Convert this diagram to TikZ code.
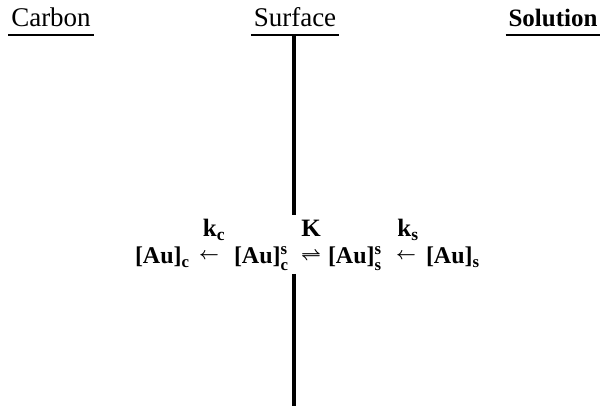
\documentclass[tikz,border=0pt]{standalone}
\usepackage{amsmath}
\usepackage{fontspec}
\setmainfont{Liberation Serif}
\usepackage{tikz}
\usetikzlibrary{positioning, calc}

\begin{document}
\begin{tikzpicture}[x=1pt, y=-1pt,
    every node/.style={inner sep=0pt, outer sep=0pt},
    hdr/.style={anchor=base, font=\fontsize{27}{30}\selectfont},
    eqn/.style={anchor=base west, font=\fontsize{24}{28}\selectfont\bfseries},
    arr/.style={anchor=base, font=\fontsize{18}{22}\selectfont\boldmath},
    rate/.style={anchor=base, font=\fontsize{25}{28}\selectfont\bfseries},
    uline/.style={line width=2.4pt},
    wall/.style={line width=3.6pt}]
    \useasboundingbox (0,0) rectangle (600,406);
    % column headings
    \node[hdr] (carbon) at (51,27) {Carbon};
    \node[hdr] (surface) at (295,27) {Surface};
    \node[hdr, font=\fontsize{25}{30}\selectfont\bfseries] (solution) at (553,27) {Solution};
    \draw[uline] ($(carbon.base west)+(-3,8)$) -- ($(carbon.base east)+(3,8)$);
    \draw[uline] ($(surface.base west)+(-3,8)$) -- ($(surface.base east)+(3,8)$);
    \draw[uline] ($(solution.base west)+(-3,8)$) -- ($(solution.base east)+(3,8)$);
    % surface wall
    \coordinate (walltop) at (294,35);
    \coordinate (wallmid) at (294,215);
    \coordinate (wallbot) at (294,274);
    \coordinate (wallend) at (294,406);
    \draw[wall] (walltop) -- (wallmid);
    \draw[wall] (wallbot) -- (wallend);
    % rate constants
    \node[rate] (kc) at (214,237) {k$_{\textbf{c}}$};
    \node[rate] (bigk) at (311,237) {K};
    \node[rate] (ks) at (408,237) {k$_{\textbf{s}}$};
    % exchange scheme
    \node[eqn] (auc) at (135,264) {[Au]$_{\textbf{c}}$};
    \node[arr] (arrc) at (209,260) {$\leftarrow$};
    \node[eqn] (aucs) at (234,264) {[Au]$^{\textbf{s}}_{\textbf{c}}$};
    \node[arr] (equil) at (311,260) {$\rightleftharpoons$};
    \node[eqn] (auss) at (328,264) {[Au]$^{\textbf{s}}_{\textbf{s}}$};
    \node[arr] (arrs) at (406,260) {$\leftarrow$};
    \node[eqn] (aus) at (426,264) {[Au]$_{\textbf{s}}$};
\end{tikzpicture}
\end{document}
